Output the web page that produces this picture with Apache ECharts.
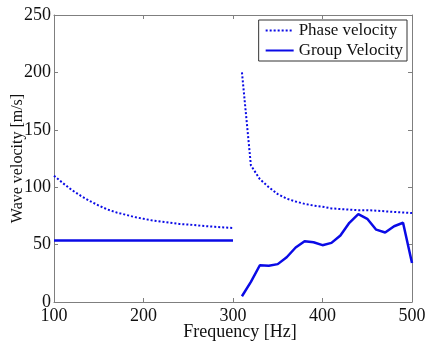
<!DOCTYPE html>
<html>
<head>
<meta charset="utf-8">
<script src="https://cdn.jsdelivr.net/npm/echarts@6/dist/echarts.min.js"></script>
<style>
  html, body { margin: 0; padding: 0; background: #fff; }
  #chart { width: 429px; height: 348px; }
</style>
</head>
<body>
<div id="chart"></div>
<script>
// 频率 (Hz) — 两段: 100-300, 310-500
const freqLow = [100, 110, 120, 130, 140, 150, 160, 170, 180, 190, 200, 210, 220, 230, 240, 250, 260, 270, 280, 290, 300];
const phaseLow = [110, 103.5, 97.5, 92.5, 88, 84, 80.5, 78, 76, 74, 72.5, 71, 70, 69, 68, 67.5, 66.8, 66, 65.5, 65, 64.5];
const groupLow = [53.5, 53.5, 53.5, 53.5, 53.5, 53.5, 53.5, 53.5, 53.5, 53.5, 53.5, 53.5, 53.5, 53.5, 53.5, 53.5, 53.5, 53.5, 53.5, 53.5, 53.5];

const freqHigh = [310, 320, 330, 340, 350, 360, 370, 380, 390, 400, 410, 420, 430, 440, 450, 460, 470, 480, 490, 500];
const phaseHigh = [200, 119, 107, 100, 94, 90, 87.5, 85.5, 84, 83, 81.5, 81, 80.5, 80, 80, 79.5, 79, 78.5, 78, 77.5];
const groupHigh = [5, 17.5, 32, 31.5, 33, 39, 47.5, 53, 52, 49.5, 51.5, 58, 69, 76.5, 72.5, 63, 60.5, 66, 69, 34];

const xTicks = [100, 200, 300, 400, 500];
const yTicks = [0, 50, 100, 150, 200, 250];

const pairs = (xs, ys) => xs.map((x, i) => [x, ys[i]]);

const FONT = 'Liberation Serif';
const BLUE = '#0a0ae6';
const AXIS_GRAY = '#7f7f7f';

const axisCommon = {
  type: 'value',
  axisLine: { show: true, onZero: false, lineStyle: { color: AXIS_GRAY, width: 1 } },
  axisTick: { show: true, inside: true, length: 4, lineStyle: { color: AXIS_GRAY } },
  splitLine: { show: false },
};

const chart = echarts.init(document.getElementById('chart'), null, { renderer: 'canvas' });

const phaseStyle = { type: [2, 2], width: 2, color: BLUE };
const groupStyle = { type: 'solid', width: 2.5, color: BLUE };

chart.setOption({
  backgroundColor: '#fff',
  animation: false,
  textStyle: { fontFamily: FONT },
  grid: { left: 54, right: 17, top: 15, bottom: 46, containLabel: false, outerBoundsMode: 'none' },
  legend: {
    orient: 'vertical',
    right: 22,
    top: 20,
    itemWidth: 28,
    itemHeight: 12,
    itemGap: 3,
    padding: [2, 4, 2, 6],
    borderColor: '#333',
    borderWidth: 1,
    borderRadius: 0,
    backgroundColor: '#fff',
    itemStyle: { opacity: 0 },
    textStyle: { fontFamily: FONT, fontSize: 17, color: '#111' },
    data: ['Phase velocity', 'Group Velocity'],
  },
  xAxis: [
    {
      ...axisCommon,
      position: 'bottom',
      min: 100, max: 500, interval: 100,
      axisLabel: { color: '#111', fontFamily: FONT, fontSize: 18, margin: 5,
        formatter: v => xTicks.includes(v) ? String(v) : '' },
      name: 'Frequency [Hz]',
      nameLocation: 'middle',
      nameGap: 21,
      nameMoveOverlap: false,
      nameTextStyle: { color: '#111', fontFamily: FONT, fontSize: 18, padding: [0, 0, 0, 14] },
    },
    {
      ...axisCommon,
      position: 'top',
      min: 100, max: 500, interval: 100,
      axisLabel: { show: false },
    },
  ],
  yAxis: [
    {
      ...axisCommon,
      position: 'left',
      min: 0, max: 250, interval: 50,
      axisLabel: { color: '#111', fontFamily: FONT, fontSize: 18, margin: 3,
        formatter: v => yTicks.includes(v) ? String(v) : '' },
      name: 'Wave velocity [m/s]',
      nameLocation: 'middle',
      nameGap: 28,
      nameMoveOverlap: false,
      nameTextStyle: { color: '#111', fontFamily: FONT, fontSize: 16 },
    },
    {
      ...axisCommon,
      position: 'right',
      min: 0, max: 250, interval: 50,
      axisLabel: { show: false },
    },
  ],
  series: [
    { name: 'Phase velocity', type: 'line', symbol: 'none', data: pairs(freqLow, phaseLow), lineStyle: phaseStyle, itemStyle: { color: BLUE } },
    { name: 'Phase velocity', type: 'line', symbol: 'none', data: pairs(freqHigh, phaseHigh), lineStyle: phaseStyle, itemStyle: { color: BLUE } },
    { name: 'Group Velocity', type: 'line', symbol: 'none', data: pairs(freqLow, groupLow), lineStyle: groupStyle, itemStyle: { color: BLUE } },
    { name: 'Group Velocity', type: 'line', symbol: 'none', data: pairs(freqHigh, groupHigh), lineStyle: groupStyle, itemStyle: { color: BLUE } },
  ],
});
</script>
</body>
</html>
